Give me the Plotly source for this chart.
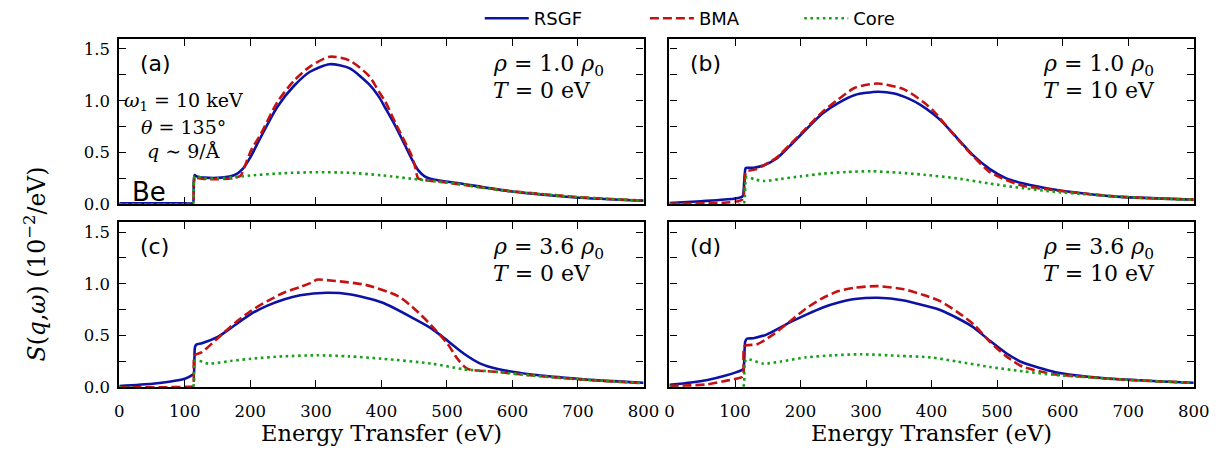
import plotly.graph_objects as go

W, H = 1232, 461

# ---------------- data ----------------
# Panel (a): rho = 1.0 rho0, T = 0 eV
a_rsgf_x = [0, 50, 100, 112, 113.5, 115, 118, 130, 156, 176, 188, 201, 216, 241, 266, 291, 321, 351, 381, 396, 406, 421, 436, 446, 456, 466, 476, 521, 596, 696, 800]
a_rsgf_y = [0.01, 0.01, 0.01, 0.012, 0.2, 0.283, 0.27, 0.258, 0.258, 0.283, 0.34, 0.466, 0.65, 0.94, 1.14, 1.28, 1.353, 1.315, 1.16, 1.04, 0.93, 0.76, 0.57, 0.44, 0.33, 0.27, 0.245, 0.2, 0.126, 0.066, 0.035]
a_bma_x = [0, 100, 112, 113.5, 115, 118, 130, 150, 175, 185, 191, 201, 216, 241, 266, 291, 321, 351, 381, 396, 406, 421, 436, 446, 451, 456, 462, 500, 550, 600, 700, 800]
a_bma_y = [0.0, 0.0, 0.0, 0.15, 0.265, 0.255, 0.245, 0.242, 0.255, 0.275, 0.36, 0.52, 0.68, 0.985, 1.19, 1.33, 1.425, 1.39, 1.24, 1.09, 0.99, 0.79, 0.6, 0.47, 0.37, 0.25, 0.238, 0.21, 0.165, 0.126, 0.07, 0.035]
a_core_x = [0, 100, 112, 113.5, 115, 130, 150, 176, 200, 250, 300, 350, 400, 456, 500, 521, 550, 596, 650, 700, 750, 800]
a_core_y = [0.0, 0.0, 0.0, 0.15, 0.27, 0.25, 0.25, 0.262, 0.278, 0.3, 0.31, 0.305, 0.28, 0.24, 0.21, 0.195, 0.165, 0.126, 0.095, 0.068, 0.05, 0.034]

# Panel (b): rho = 1.0 rho0, T = 10 eV
b_rsgf_x = [0, 48, 98, 111, 112.5, 116, 118, 128, 143, 163, 183, 208, 233, 258, 283, 318, 343, 365, 383, 403, 414, 439, 464, 489, 514, 539, 589, 639, 689, 789, 800]
b_rsgf_y = [0.0125, 0.03, 0.053, 0.072, 0.09, 0.345, 0.352, 0.353, 0.375, 0.44, 0.56, 0.72, 0.875, 0.98, 1.056, 1.0875, 1.07, 1.02, 0.96, 0.87, 0.81, 0.64, 0.47, 0.34, 0.25, 0.203, 0.14, 0.1, 0.072, 0.047, 0.045]
b_bma_x = [0, 83, 105, 111, 113, 116, 118, 133, 163, 183, 208, 233, 258, 283, 318, 358, 389, 403, 439, 464, 489, 514, 539, 589, 639, 689, 789, 800]
b_bma_y = [0.005, 0.015, 0.03, 0.047, 0.07, 0.30, 0.32, 0.34, 0.45, 0.57, 0.73, 0.89, 1.015, 1.125, 1.166, 1.11, 0.98, 0.9, 0.635, 0.46, 0.31, 0.234, 0.18, 0.135, 0.1, 0.072, 0.047, 0.045]
b_core_x = [0, 110, 114, 118, 130, 145, 170, 200, 233, 270, 308, 350, 389, 439, 489, 539, 589, 639, 689, 789, 800]
b_core_y = [0.0, 0.0, 0.02, 0.265, 0.24, 0.225, 0.245, 0.27, 0.295, 0.312, 0.319, 0.305, 0.285, 0.25, 0.2, 0.156, 0.12, 0.095, 0.072, 0.045, 0.043]

# Panel (c): rho = 3.6 rho0, T = 0 eV
c_rsgf_x = [0, 51, 76, 101, 111, 113.5, 115.5, 118, 126, 151, 176, 201, 226, 251, 276, 316, 351, 401, 451, 476, 501, 526, 551, 576, 626, 676, 726, 800]
c_rsgf_y = [0.013, 0.035, 0.054, 0.086, 0.118, 0.13, 0.39, 0.415, 0.427, 0.49, 0.6, 0.71, 0.79, 0.85, 0.89, 0.914, 0.9, 0.82, 0.66, 0.57, 0.45, 0.325, 0.23, 0.18, 0.127, 0.096, 0.07, 0.045]
c_bma_x = [0, 100, 112, 113.5, 115, 126, 151, 176, 201, 226, 251, 276, 296, 301, 326, 376, 426, 451, 476, 501, 516, 531, 576, 626, 676, 726, 800]
c_bma_y = [0.0, 0.005, 0.012, 0.2, 0.31, 0.34, 0.48, 0.62, 0.74, 0.834, 0.914, 0.97, 1.02, 1.04, 1.03, 0.99, 0.88, 0.755, 0.6, 0.42, 0.277, 0.18, 0.15, 0.118, 0.09, 0.067, 0.04]
c_core_x = [0, 112, 114, 116, 136, 170, 201, 250, 301, 350, 401, 476, 526, 576, 626, 676, 726, 800]
c_core_y = [0.0, 0.0, 0.05, 0.26, 0.23, 0.255, 0.277, 0.3, 0.31, 0.3, 0.277, 0.23, 0.175, 0.15, 0.118, 0.09, 0.068, 0.042]

# Panel (d): rho = 3.6 rho0, T = 10 eV
d_rsgf_x = [0, 33, 58, 83, 111, 113, 115.5, 118, 128, 148, 183, 208, 233, 258, 283, 318, 358, 389, 414, 439, 464, 489, 514, 539, 564, 589, 639, 689, 789, 800]
d_rsgf_y = [0.025, 0.047, 0.072, 0.11, 0.17, 0.18, 0.44, 0.47, 0.475, 0.51, 0.625, 0.70, 0.77, 0.82, 0.853, 0.866, 0.84, 0.79, 0.745, 0.67, 0.58, 0.45, 0.33, 0.24, 0.19, 0.147, 0.103, 0.078, 0.047, 0.045]
d_bma_x = [0, 33, 58, 83, 111, 113, 115, 133, 158, 183, 208, 233, 258, 283, 318, 358, 389, 414, 439, 464, 489, 514, 539, 564, 589, 639, 689, 789, 800]
d_bma_y = [0.016, 0.02, 0.03, 0.06, 0.1, 0.12, 0.4, 0.415, 0.51, 0.634, 0.76, 0.86, 0.93, 0.9625, 0.978, 0.947, 0.89, 0.83, 0.73, 0.61, 0.44, 0.30, 0.2, 0.156, 0.125, 0.1, 0.076, 0.047, 0.045]
d_core_x = [0, 112, 114, 117, 143, 170, 208, 250, 293, 350, 398, 439, 489, 539, 589, 689, 789, 800]
d_core_y = [0.0, 0.0, 0.05, 0.27, 0.23, 0.25, 0.29, 0.31, 0.32, 0.305, 0.29, 0.25, 0.197, 0.156, 0.12, 0.078, 0.047, 0.045]

panel_labels = ["(a)", "(b)", "(c)", "(d)"]
densities = ["1.0", "1.0", "3.6", "3.6"]
temperatures = ["0", "10", "0", "10"]
series_names = ["RSGF", "BMA", "Core"]
x_ticks = [0, 100, 200, 300, 400, 500, 600, 700, 800]
y_ticks = [0.0, 0.5, 1.0, 1.5]

panels = [
    (a_rsgf_x, a_rsgf_y, a_bma_x, a_bma_y, a_core_x, a_core_y),
    (b_rsgf_x, b_rsgf_y, b_bma_x, b_bma_y, b_core_x, b_core_y),
    (c_rsgf_x, c_rsgf_y, c_bma_x, c_bma_y, c_core_x, c_core_y),
    (d_rsgf_x, d_rsgf_y, d_bma_x, d_bma_y, d_core_x, d_core_y),
]

# ---------------- styling ----------------
BLUE = "#0c12a4"
RED = "#c41212"
GREEN = "#16a016"
SERIF = "DejaVu Serif"
SANS = "DejaVu Sans"

def px_x(p):
    return p / W

def px_y(p):
    return 1 - p / H

# panel pixel boxes (left, right, top, bottom)
boxes = [
    (116.3, 649.6, 37.6, 207.7),
    (676.0, 1209.3, 37.6, 207.7),
    (116.3, 649.6, 225.6, 395.7),
    (676.0, 1209.3, 225.6, 395.7),
]

fig = go.Figure()
styles = [
    dict(color=BLUE, width=2.6, dash="solid", shape="spline", smoothing=0.7),
    dict(color=RED, width=2.6, dash="9px,4px", shape="spline", smoothing=0.7),
    dict(color=GREEN, width=2.6, dash="2.6px,3.6px", shape="spline", smoothing=0.7),
]
legend_ids = ["legend", "legend2", "legend3"]

for i, pdata in enumerate(panels):
    xa = "x" if i == 0 else f"x{i+1}"
    ya = "y" if i == 0 else f"y{i+1}"
    for k in range(3):
        fig.add_trace(go.Scatter(
            x=pdata[2 * k], y=pdata[2 * k + 1], mode="lines",
            name=series_names[k], line=styles[k],
            xaxis=xa, yaxis=ya, showlegend=(i == 0), legend=legend_ids[k],
        ))

layout = {}
for i, (l, r, t, b) in enumerate(boxes):
    sx = "" if i == 0 else str(i + 1)
    layout[f"xaxis{sx}"] = dict(
        domain=[px_x(l), px_x(r)], range=[0, 800], anchor=f"y{sx}",
        tickmode="array", tickvals=x_ticks,
        ticks="inside", ticklen=7, tickwidth=1.3, tickcolor="black",
        showline=True, linewidth=2.2, linecolor="black", mirror="allticks",
        showgrid=False, zeroline=False,
        showticklabels=(i >= 2), ticklabelstandoff=8,
        tickfont=dict(family=SERIF, size=16.5, color="black"),
    )
    layout[f"yaxis{sx}"] = dict(
        domain=[px_y(b), px_y(t)], range=[0, 1.6], anchor=f"x{sx}",
        tickmode="array", tickvals=y_ticks, tickformat=".1f",
        ticks="inside", ticklen=7, tickwidth=1.3, tickcolor="black",
        minor=dict(dtick=0.25, tick0=0, ticks="inside", ticklen=7, tickwidth=1.3, tickcolor="black", showgrid=False),
        showline=True, linewidth=2.2, linecolor="black", mirror="allticks",
        showgrid=False, zeroline=False,
        showticklabels=(i % 2 == 0), ticklabelstandoff=4,
        tickfont=dict(family=SERIF, size=16.5, color="black"),
    )

annotations = []
for i, (l, r, t, b) in enumerate(boxes):
    off = 0 if i < 2 else 188
    annotations.append(dict(x=px_x(l + 19), y=px_y(63 + off), xref="paper", yref="paper",
                            text=panel_labels[i], showarrow=False, xanchor="left", yanchor="middle",
                            font=dict(family=SANS, size=22, color="black")))
    annotations.append(dict(x=px_x(l + 378), y=px_y(65 + off), xref="paper", yref="paper",
                            text=f"<i>ρ</i> = {densities[i]} <i>ρ</i><sub>0</sub>", showarrow=False,
                            xanchor="left", yanchor="middle", font=dict(family=SERIF, size=22, color="black")))
    annotations.append(dict(x=px_x(l + 378), y=px_y(91 + off), xref="paper", yref="paper",
                            text=f"<i>T</i> = {temperatures[i]} eV", showarrow=False,
                            xanchor="left", yanchor="middle", font=dict(family=SERIF, size=22, color="black")))

for txt, yy in [("<i>ω</i><sub>1</sub> = 10 keV", 102), ("<i>θ</i> = 135°", 128), ("<i>q</i> ∼ 9/Å", 153)]:
    annotations.append(dict(x=px_x(182), y=px_y(yy), xref="paper", yref="paper", text=txt,
                            showarrow=False, xanchor="center", yanchor="middle",
                            font=dict(family=SERIF, size=19, color="black")))
annotations.append(dict(x=px_x(127), y=px_y(195), xref="paper", yref="paper", text="Be",
                        showarrow=False, xanchor="left", yanchor="middle",
                        font=dict(family=SANS, size=26, color="black")))

for cx in [(116.3 + 649.6) / 2, (676.0 + 1209.3) / 2]:
    annotations.append(dict(x=px_x(cx), y=px_y(443), xref="paper", yref="paper",
                            text="Energy Transfer (eV)", showarrow=False, xanchor="center", yanchor="middle",
                            font=dict(family=SERIF, size=22.5, color="black")))
annotations.append(dict(x=px_x(32), y=px_y(269), xref="paper", yref="paper",
                        text="<i>S</i>(<i>q</i>,<i>ω</i>) (10<sup>−2</sup>/eV)", showarrow=False,
                        textangle=-90, xanchor="center", yanchor="middle",
                        font=dict(family=SERIF, size=23.5, color="black")))

legend_common = dict(orientation="h", xanchor="left", yanchor="middle",
                     font=dict(family=SANS, size=18, color="black"),
                     bgcolor="rgba(0,0,0,0)", itemwidth=44)

fig.update_layout(
    width=W, height=H, margin=dict(l=0, r=0, t=0, b=0),
    paper_bgcolor="white", plot_bgcolor="white",
    annotations=annotations,
    legend=dict(x=px_x(483), y=px_y(17), **legend_common),
    legend2=dict(x=px_x(651), y=px_y(17), **legend_common),
    legend3=dict(x=px_x(808), y=px_y(17), **legend_common),
    **layout,
)

fig.write_html("out.html", config={"displayModeBar": False},
               post_script="document.body.style.margin='0px';")
